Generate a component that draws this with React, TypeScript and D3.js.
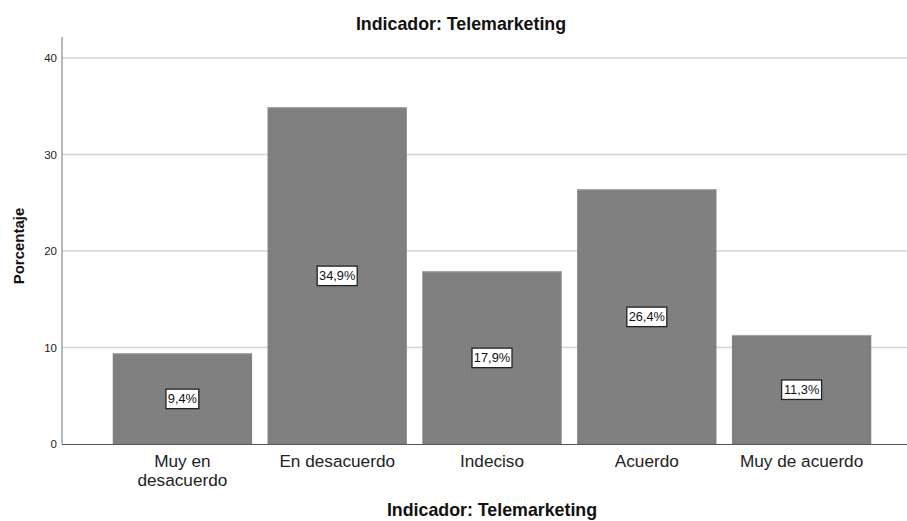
import React from "react";
import * as d3 from "d3";

const categories = ["Muy en desacuerdo", "En desacuerdo", "Indeciso", "Acuerdo", "Muy de acuerdo"];
const categoryLines = [["Muy en", "desacuerdo"], ["En desacuerdo"], ["Indeciso"], ["Acuerdo"], ["Muy de acuerdo"]];
const percentages = [9.4, 34.9, 17.9, 26.4, 11.3];
const yTicks = [0, 10, 20, 30, 40];
const title = "Indicador: Telemarketing";
const xTitle = "Indicador: Telemarketing";
const yTitle = "Porcentaje";

const W = 907;
const H = 521;
const FONT = "'Liberation Sans', Arial, sans-serif";

export default function App() {
  const axisX = 62;
  const rightX = 907;
  const y = d3.scaleLinear().domain([0, 40]).range([444, 58]);
  const x = d3
    .scaleBand<string>()
    .domain(categories)
    .range([105, 879])
    .paddingInner(0.1)
    .paddingOuter(0.05);
  const fmt = (v: number) => v.toFixed(1).replace(".", ",") + "%";

  return (
    <div style={{ position: "fixed", left: 0, top: 0 }}>
      <svg width={W} height={H} style={{ display: "block", background: "#fff" }}>
        <defs>
          <pattern id="tex" width="2" height="2" patternUnits="userSpaceOnUse">
            <rect width="2" height="2" fill="#7f7f7f" />
            <rect width="1" height="1" fill="#858585" />
            <rect x="1" y="1" width="1" height="1" fill="#7b7b7b" />
          </pattern>
        </defs>
        <text x={461} y={30} textAnchor="middle" fontFamily={FONT} fontWeight="bold" fontSize={17.8} fill="#111">
          {title}
        </text>
        {yTicks.filter((t) => t > 0).map((t) => (
          <line key={"g" + t} x1={axisX} x2={rightX} y1={y(t)} y2={y(t)} stroke="#d4d4d4" strokeWidth={1.5} />
        ))}
        {categories.map((c, i) => {
          const bx = x(c)!;
          const bw = x.bandwidth();
          const top = y(percentages[i]);
          return (
            <g key={c}>
              <rect x={bx} y={top} width={bw} height={y(0) - top} fill="url(#tex)" />
              <line x1={bx} x2={bx + bw} y1={top + 0.5} y2={top + 0.5} stroke="#a8a8a8" strokeWidth={1} />
            </g>
          );
        })}
        <line x1={axisX} x2={axisX} y1={37} y2={444} stroke="#8a8a8a" strokeWidth={1.2} />
        <line x1={axisX} x2={rightX} y1={444.5} y2={444.5} stroke="#555" strokeWidth={1.2} />
        {yTicks.map((t) => (
          <text key={"t" + t} x={57} y={y(t) + 4} textAnchor="end" fontFamily={FONT} fontSize={11.5} fill="#222">
            {t}
          </text>
        ))}
        {categories.map((c, i) => {
          const cx = x(c)! + x.bandwidth() / 2;
          const mid = (y(percentages[i]) + y(0)) / 2;
          const label = fmt(percentages[i]);
          const tw = label.length * 7.2 + 4;
          return (
            <g key={"l" + c}>
              <rect x={cx - tw / 2} y={mid - 9.5} width={tw} height={19.5} fill="#fff" stroke="#222" strokeWidth={1.3} />
              <text x={cx} y={mid + 4.6} textAnchor="middle" fontFamily={FONT} fontSize={12.8} fill="#111">
                {label}
              </text>
            </g>
          );
        })}
        {categories.map((c, i) => {
          const cx = x(c)! + x.bandwidth() / 2;
          return (
            <text key={"x" + c} textAnchor="middle" fontFamily={FONT} fontSize={17.2} fill="#222">
              {categoryLines[i].map((ln, j) => (
                <tspan key={j} x={cx} y={466.5 + j * 19}>
                  {ln}
                </tspan>
              ))}
            </text>
          );
        })}
        <text x={492} y={516} textAnchor="middle" fontFamily={FONT} fontWeight="bold" fontSize={17.8} fill="#111">
          {xTitle}
        </text>
        <text
          transform="translate(24,246) rotate(-90)"
          textAnchor="middle"
          fontFamily={FONT}
          fontWeight="bold"
          fontSize={15}
          fill="#111"
        >
          {yTitle}
        </text>
      </svg>
    </div>
  );
}
